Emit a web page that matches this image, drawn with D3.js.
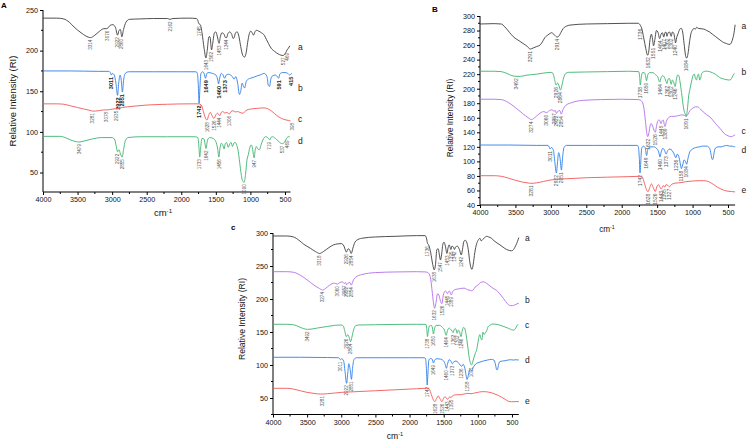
<!DOCTYPE html>
<html><head><meta charset="utf-8">
<script src="https://cdn.jsdelivr.net/npm/d3@7/dist/d3.min.js"></script>
<style>
body{margin:0;background:#fff;}
svg{display:block;font-family:"Liberation Sans",Arial,sans-serif;}
</style></head>
<body><svg id="chart" width="750" height="442"></svg>
<script>
// ---------- tick labels ----------
const xTicks = [4000,3500,3000,2500,2000,1500,1000,500];
const A_yTicks = [50,100,150,200,250];
const B_yTicks = [40,60,80,100,120,140,160,180,200,220,240,260,280,300];
const C_yTicks = [50,100,150,200,250,300];

// ---------- Panel A spectra [wavenumber, intensity] ----------
const A_a = [[4000,240],[3800,240],[3700,239],[3620,235],[3550,229],[3450,222],[3380,218],[3314,216],[3250,219],[3180,224],[3120,227],[3076,227],[3030,231],[2990,232],[2950,228],[2922,219],[2900,225],[2880,226],[2860,217],[2835,226],[2800,235],[2750,238.5],[2600,239],[2400,239.5],[2200,239.5],[2162,238.5],[2120,239.5],[1900,240],[1780,239.5],[1760,237],[1745,233],[1725,232],[1700,222],[1670,203],[1643,191],[1625,200],[1600,217],[1585,217],[1562,201],[1545,209],[1520,222],[1500,223],[1480,218],[1453,209],[1435,217],[1410,222],[1380,220],[1360,216],[1344,216],[1325,221],[1300,223],[1270,220],[1250,215],[1235,216],[1215,222],[1190,223],[1165,217],[1140,205],[1110,194],[1085,192],[1060,198],[1040,210],[1015,221],[995,224],[975,222],[955,219],[935,223],[915,225],[880,224],[840,222],[800,219],[770,214],[740,209],[700,203],[650,199],[600,196],[560,194.5],[527,194],[500,196],[480,199],[469,201],[450,203],[430,206]];
const A_b = [[4000,175],[3600,175],[3200,174.5],[3050,174.5],[3025,173],[3011,170],[2995,172],[2970,170],[2945,160],[2922,145],[2905,160],[2885,170],[2870,165],[2851,149],[2835,163],[2810,172],[2760,174],[2400,174],[2000,174],[1800,174],[1770,173],[1755,160],[1742,135],[1730,155],[1715,172],[1690,174],[1670,172],[1649,166],[1630,172],[1600,173],[1550,172],[1500,170],[1475,165],[1460,159],[1445,166],[1420,172],[1395,170],[1373,166],[1350,170],[1320,171],[1290,170],[1260,168],[1236,165],[1210,168],[1185,160],[1158,146],[1140,150],[1120,160],[1100,156],[1084,154],[1060,162],[1030,165],[1000,166],[960,167],[900,169],[860,170],[800,172],[760,168],[740,157],[722,156],[705,165],[680,169],[640,170],[610,168],[591,166],[575,171],[540,173],[500,173],[460,172],[430,170],[415,171],[400,172]];
const A_c = [[4000,134.5],[3800,134.5],[3700,134],[3600,132],[3500,130],[3400,128],[3300,126],[3281,125.5],[3200,126],[3120,127],[3078,127],[3000,128],[2935,128.5],[2850,130],[2700,131.5],[2500,133],[2200,134],[1900,134.5],[1750,134.5],[1710,133],[1680,125],[1650,117],[1628,114.5],[1605,120],[1580,124],[1555,120],[1526,116.5],[1500,121],[1475,123],[1444,120],[1420,124],[1395,125],[1370,123],[1340,124],[1306,122],[1280,125],[1250,126],[1220,124.5],[1190,125],[1150,124],[1120,123],[1103,123],[1080,125],[1050,127],[1000,128],[900,129],[800,129.5],[750,128.5],[700,126],[650,122.5],[600,119],[550,116.5],[500,115],[450,114],[420,113.5]];
const A_d = [[4000,94.5],[3750,94.5],[3680,93],[3600,90],[3520,88],[3479,87.5],[3420,88.5],[3300,91],[3150,93],[3000,93],[2960,90],[2940,82],[2922,75.5],[2900,78],[2880,73],[2855,69],[2835,78],[2810,89],[2770,93],[2600,94],[2200,94],[1800,94],[1760,93],[1745,82],[1733,69],[1720,80],[1700,92],[1670,91],[1642,79.5],[1620,90],[1590,93],[1540,92],[1500,88],[1475,80],[1456,69],[1440,80],[1420,86],[1400,84],[1380,79],[1365,85],[1345,87],[1320,81],[1300,85],[1280,87],[1260,82],[1240,86],[1220,87],[1200,84],[1180,78],[1160,66],[1140,52],[1115,40],[1090,38],[1070,48],[1050,65],[1030,72],[1010,80],[990,84],[975,82],[960,74],[947,68],[930,78],[915,82],[895,79],[870,78],[850,83],[820,90],[800,93],[780,94],[750,93],[730,91],[719,90],[705,93],[680,94],[640,92],[600,89],[560,86],[537,85.5],[510,87],[490,90],[469,93],[450,94],[430,94]];

// ---------- Panel B spectra ----------
const B_a = [[4000,289],[3800,289.5],[3700,289],[3650,285],[3580,277],[3530,271.5],[3450,266],[3389,262],[3330,258],[3291,254.5],[3250,256],[3200,258],[3153,260],[3110,266],[3083,270.5],[3040,274],[3012,276],[2990,277],[2960,275],[2930,272],[2914,271],[2890,272],[2860,277],[2824,283],[2780,286],[2730,287.5],[2500,289],[2200,289.5],[1900,290],[1770,290],[1750,289],[1736,287],[1715,282],[1690,270],[1660,255],[1640,247],[1632,246],[1620,250],[1600,268],[1580,275],[1565,268],[1551,259],[1535,266],[1510,280],[1490,278],[1464,269],[1445,275],[1425,277],[1407,271],[1390,277],[1375,278],[1362,272],[1345,277],[1325,278],[1302,272],[1285,278],[1265,276],[1250,268],[1240,263],[1225,270],[1200,277],[1180,282],[1160,283],[1140,278],[1120,262],[1100,246],[1084,242],[1065,248],[1045,263],[1025,275],[1000,281],[980,283],[960,282],[942,284.5],[920,283],[880,282.5],[840,282],[800,280],[760,278],[720,275],[680,272],[640,269],[600,266],[560,263.5],[518,262],[490,261],[472,261],[450,264],[430,270],[410,280],[400,288]];
const B_b = [[4000,224],[3800,224],[3700,223.5],[3620,221],[3550,218],[3492,217],[3430,217],[3350,218.5],[3200,220],[3100,221.5],[3000,222.5],[2970,221],[2950,214],[2926,205],[2905,208],[2885,204],[2864,198],[2845,204],[2820,215],[2790,221],[2750,222.5],[2500,223],[2200,223.5],[1900,224],[1760,223.5],[1748,217],[1738,205],[1726,214],[1710,222],[1680,222],[1665,218],[1650,211],[1635,218],[1610,222],[1560,222],[1520,219],[1490,216],[1464,209],[1445,215],[1420,218],[1390,214],[1375,210],[1362,207],[1345,213],[1325,214],[1302,206],[1285,212],[1270,210],[1246,203],[1230,212],[1210,219],[1195,218],[1175,208],[1150,190],[1125,172],[1100,164],[1091,162],[1075,170],[1055,190],[1036,200],[1010,212],[990,219],[975,220],[960,214],[945,212],[930,218],[915,220],[900,212],[885,215],[870,221],[850,223],[820,224],[790,224],[760,223.5],[720,222],[680,220],[640,217],[600,214.5],[566,213.5],[530,212.5],[490,212],[472,212],[450,214],[430,218],[410,221]];
const B_c = [[4000,185.5],[3800,185.5],[3700,185],[3600,181],[3500,174],[3400,166],[3320,160],[3274,157.5],[3230,160],[3170,165],[3100,168.5],[3060,167],[3020,170],[2985,171],[2957,169],[2935,170],[2922,166],[2900,169],[2875,170],[2854,165],[2830,171],[2790,177],[2700,181],[2541,184],[2300,185],[2000,185.5],[1760,185],[1720,183],[1690,175],[1665,155],[1645,138],[1632,134],[1615,140],[1590,152],[1570,150],[1545,143],[1526,140],[1510,148],[1490,156],[1470,157],[1445,152],[1430,156],[1415,157],[1400,151],[1389,148],[1370,155],[1340,160],[1300,162],[1250,162],[1200,163],[1150,164],[1110,163],[1091,162],[1070,164],[1036,170],[1000,173],[960,175],[930,175],[890,172],[850,168],[800,164],[754,161],[700,155],[650,149],[613,145.5],[560,139],[518,136],[480,134.5],[448,134],[420,135.5],[400,136.5]];
const B_d = [[4000,122.5],[3600,122.5],[3200,122],[3040,122],[3025,120],[3011,117],[2995,119],[2965,116],[2945,100],[2922,84],[2905,100],[2890,112],[2870,104],[2851,88],[2835,105],[2815,119],[2780,122],[2400,122],[2000,122],[1780,122],[1765,120],[1752,105],[1742,84],[1732,98],[1718,118],[1695,121],[1670,119],[1649,108],[1630,117],[1600,120],[1550,120],[1500,117],[1478,113],[1460,106],[1445,112],[1420,118],[1395,115],[1373,110],[1350,115],[1320,117],[1290,115],[1260,110],[1236,105],[1215,110],[1190,105],[1170,95],[1158,90],[1140,95],[1120,102],[1100,100],[1084,96],[1065,104],[1040,113],[1000,117],[960,119],[900,120],[860,121],[800,121],[760,118],[740,110],[725,103],[712,103],[700,110],[680,118],[640,120],[600,120],[560,121],[520,122],[480,121],[440,121],[410,120],[400,121]];
const B_e = [[4000,80.3],[3800,80.3],[3700,79.5],[3600,77],[3500,74],[3400,71.5],[3300,70],[3281,69.8],[3200,70.5],[3100,72.5],[3000,74.5],[2800,76],[2500,77.5],[2200,78.3],[1900,79],[1740,79.5],[1710,78.5],[1680,70],[1650,61],[1628,58.3],[1605,64],[1580,69],[1555,64],[1526,58.5],[1505,65],[1480,68],[1463,65],[1443,62],[1420,66],[1405,66.5],[1395,64.5],[1375,68],[1350,67],[1327,65],[1300,68],[1250,70],[1200,70.5],[1150,71],[1100,72],[1050,72.5],[1000,73],[900,73.5],[850,73.5],[800,73],[750,71],[700,68],[650,64.5],[600,62],[550,60],[500,59],[450,58.5],[400,58]];

// ---------- Panel C spectra ----------
const C_a = [[4000,295.5],[3800,295.5],[3700,294],[3620,289],[3550,283],[3455,277],[3380,272],[3318,269],[3260,272],[3180,278],[3116,282],[3050,283.5],[3000,284],[2960,280],[2940,274],[2926,271],[2900,276],[2880,275],[2854,269],[2830,277],[2800,286],[2774,289],[2700,292],[2500,294],[2200,295],[1900,296],[1770,296],[1750,291],[1736,284],[1720,282],[1690,270],[1660,252],[1638,244],[1620,252],[1600,275],[1580,276],[1565,268],[1547,259],[1530,268],[1510,284],[1495,286],[1475,280],[1453,269],[1435,278],[1420,282],[1405,278],[1395,275],[1380,280],[1360,279],[1342,275],[1325,279],[1300,280],[1270,275],[1242,266.7],[1225,275],[1205,287],[1185,289],[1160,285],[1140,275],[1120,258],[1100,247],[1085,245],[1067,253],[1045,270],[1017,284],[995,289],[969,292],[950,288],[930,290],[900,293],[871,295],[840,294],[800,292],[760,288],[720,285],[676,282],[630,278.5],[578,275],[540,273.5],[505,273],[470,276],[445,281],[431,284],[410,290],[400,293]];
const C_b = [[4000,241.4],[3800,241.4],[3700,240.5],[3600,236],[3500,229],[3400,221],[3320,216],[3274,213.6],[3230,216],[3170,221],[3100,224],[3060,222.5],[3020,225],[2985,226],[2957,223.5],[2935,225],[2922,221.5],[2900,224],[2875,225],[2854,221],[2830,227],[2790,233],[2700,237],[2500,240],[2200,241],[1900,241.4],[1760,241],[1720,239],[1690,230],[1665,208],[1645,191],[1632,186],[1615,193],[1590,208],[1570,206],[1545,196],[1526,193],[1510,203],[1490,211],[1470,212],[1445,208],[1430,211],[1415,212],[1400,208],[1389,206],[1370,211],[1340,214],[1300,215],[1250,216],[1200,216.5],[1150,214],[1110,213],[1091,212.5],[1067,214],[1040,218],[1000,221],[960,225],[920,226],[890,225],[850,222],[800,218],[760,215],[725,213],[680,208],[626,201],[590,196],[553,191.5],[520,190],[490,190],[460,191],[430,192.5],[400,193.5]];
const C_c = [[4000,161.7],[3800,161.7],[3700,161],[3620,158],[3550,155],[3492,154],[3430,154.5],[3350,156],[3200,158.5],[3100,160],[3000,160.6],[2970,159],[2950,152],[2926,143],[2905,146],[2885,142],[2864,135.3],[2845,142],[2820,153],[2790,159.5],[2750,160.6],[2500,161],[2200,161.5],[1900,161.7],[1760,161.5],[1748,155],[1738,143],[1726,151],[1710,159],[1680,160],[1665,156],[1650,147],[1635,155],[1610,160],[1560,160],[1520,157],[1490,153],[1464,145],[1445,152],[1420,156],[1390,153],[1375,151],[1362,149],[1345,154],[1325,155],[1302,148],[1285,153],[1270,151],[1246,143],[1230,151],[1210,157],[1195,156],[1175,148],[1150,130],[1125,110],[1100,101],[1091,100],[1075,105],[1055,112],[1036,118],[1017,123],[1000,133],[985,142],[969,146],[955,140],[940,138],[925,150],[910,146],[895,148],[870,152],[850,158],[818,160.6],[790,162],[760,162],[720,161.5],[680,160.5],[640,159],[600,157.5],[553,155.6],[520,154],[490,153],[472,153],[450,155],[430,159],[410,161.7]];
const C_d = [[4000,111.7],[3600,111.7],[3200,111.3],[3040,111],[3025,110],[3011,108],[2995,109.5],[2965,106],[2945,90],[2922,72.3],[2905,88],[2890,102],[2870,93],[2851,78.3],[2835,95],[2815,108],[2780,111],[2400,111],[2000,111],[1780,111],[1765,109],[1752,92],[1742,69.7],[1732,85],[1718,107],[1695,110],[1670,109],[1649,103],[1630,108],[1600,109.5],[1550,109],[1500,106],[1478,101],[1460,95],[1445,101],[1420,108],[1395,106],[1373,102],[1350,105],[1320,106],[1290,104],[1260,100],[1236,98],[1215,101],[1190,95],[1170,83],[1158,78],[1140,84],[1120,93],[1100,92],[1091,91],[1070,96],[1045,100],[1017,102.5],[980,104],[920,106],[860,107.5],[800,108.5],[760,107],[740,100],[725,93],[712,93],[700,99],[680,105],[640,106],[600,106.5],[560,107.5],[520,108],[480,107.5],[440,108],[410,107.5],[400,108]];
const C_e = [[4000,64.7],[3800,64.7],[3700,63.5],[3600,61],[3500,58.5],[3400,57],[3300,56],[3281,56],[3200,56.5],[3100,57.5],[3000,58.5],[2800,59.5],[2500,61],[2200,62.5],[1900,64],[1740,64.7],[1710,63],[1680,55],[1650,47],[1628,44.4],[1605,49],[1580,53],[1555,49],[1526,44.4],[1505,49],[1480,52],[1463,50],[1443,48],[1420,51],[1405,52],[1395,50.5],[1375,53],[1340,54.5],[1300,55],[1250,55],[1200,56],[1150,57],[1100,56.5],[1050,57.5],[1000,58.5],[950,59.5],[900,59.6],[850,59],[800,58],[750,56],[700,54],[650,51],[600,48],[550,45],[505,44.4],[470,44.4],[440,44.6],[400,44.5]];

// ---------- peak labels (wavenumbers) ----------
const A_a_peaks = [3314,3076,2922,2860,2162,1745,1643,1562,1453,1344,527,469];
const A_b_peaks = [3011,2922,2851,1742,1649,1460,1373,591,415];
const A_c_peaks = [3281,3078,2935,1628,1526,1444,1306,398];
const A_d_peaks = [3479,2922,2855,1733,1642,1456,1090,947,719,537,469];
const B_a_peaks = [3291,2914,1736,1632,1551,1464,1407,1362,1302,1240,1084];
const B_b_peaks = [3492,2926,2864,1738,1650,1464,1362,1302,1246,1091];
const B_c_peaks = [3274,3060,2957,2922,2854,1632,1526,1445,1389];
const B_d_peaks = [3011,2922,2851,1742,1649,1460,1373,1236,1158,1084];
const B_e_peaks = [3281,1628,1526,1443,1395,1327];
const C_a_peaks = [3318,2926,2854,1736,1638,1547,1453,1395,1342,1242];
const C_b_peaks = [3274,3060,2957,2922,2854,1632,1526,1445,1389];
const C_c_peaks = [3492,2926,2864,1738,1650,1464,1362,1302,1246,1091];
const C_d_peaks = [3011,2922,2851,1742,1649,1460,1373,1236,1158];
const C_e_peaks = [3281,1628,1526,1443,1395];

const seriesNames = ["a","b","c","d","e"];

// ---------- colours ----------
const GRAY="#3d3d3d", BLUE="#2f7fea", RED="#f25757", GREEN="#3cb46e", PURPLE="#b36ee8";

// ---------- layout ----------
const panels = [
  {letter:"A", letterPos:[1,8], xr:[43,290.5], xd:[4000,420], yd:[26,250], yr:[192,10], yTicks:A_yTicks, yMinorStep:25,
   tickFont:7.2, peakFont:4.6, titleFont:9.5, titleX:13, titleY:101, cmX:163, cmY:216, seriesX:298,
   series:[{d:A_a,c:GRAY,p:A_a_peaks,ly:48},{d:A_b,c:BLUE,p:A_b_peaks,ly:89,bold:true},{d:A_c,c:RED,p:A_c_peaks,ly:120},{d:A_d,c:GREEN,p:A_d_peaks,ly:142}]},
  {letter:"B", letterPos:[432,12], xr:[480,735.1], xd:[4000,400], yd:[40,300], yr:[205,16], yTicks:B_yTicks, yMinorStep:10,
   tickFont:7.2, peakFont:5, titleFont:8.2, titleX:451, titleY:118, cmX:607, cmY:232, seriesX:741.5,
   series:[{d:B_a,c:GRAY,p:B_a_peaks,ly:27},{d:B_b,c:GREEN,p:B_b_peaks,ly:73},{d:B_c,c:PURPLE,p:B_c_peaks,ly:132},{d:B_d,c:BLUE,p:B_d_peaks,ly:151},{d:B_e,c:RED,p:B_e_peaks,ly:191}]},
  {letter:"c", letterPos:[231,230], xr:[273,518.8], xd:[4000,400], yd:[25,300], yr:[414.5,233], yTicks:C_yTicks, yMinorStep:25,
   tickFont:7.2, peakFont:4.6, titleFont:8.6, titleX:243, titleY:319, cmX:395, cmY:439, seriesX:525,
   series:[{d:C_a,c:GRAY,p:C_a_peaks,ly:239},{d:C_b,c:PURPLE,p:C_b_peaks,ly:301},{d:C_c,c:GREEN,p:C_c_peaks,ly:326},{d:C_d,c:BLUE,p:C_d_peaks,ly:361},{d:C_e,c:RED,p:C_e_peaks,ly:402}]}
];

const svg = d3.select("#chart");

function interp(data, w){
  for(let i=0;i<data.length-1;i++){
    const [w0,v0]=data[i],[w1,v1]=data[i+1];
    if(w<=w0 && w>=w1){ const t=(w0-w)/(w0-w1||1); return v0+t*(v1-v0); }
  }
  return w>data[0][0]?data[0][1]:data[data.length-1][1];
}

panels.forEach(P=>{
  const g = svg.append("g");
  const x = d3.scaleLinear().domain(P.xd).range(P.xr);
  const y = d3.scaleLinear().domain(P.yd).range(P.yr);

  // x axis
  const xMinor = d3.range(4000, P.xd[1]-1, -250).filter(v=>v%500!==0);
  const xa = g.append("g").attr("transform",`translate(0,${P.yr[0]})`)
    .call(d3.axisBottom(x).tickValues(xTicks).tickSize(3).tickPadding(2).tickFormat(d3.format("d")));
  xa.selectAll("text").attr("font-size",P.tickFont).attr("fill","#111").attr("font-family","Liberation Sans, Arial, sans-serif");
  xa.select(".domain").attr("d",`M${P.xr[0]},0H${P.xr[1]}`);
  g.append("g").attr("transform",`translate(0,${P.yr[0]})`).selectAll("line").data(xMinor).join("line")
    .attr("x1",d=>x(d)).attr("x2",d=>x(d)).attr("y1",0).attr("y2",2).attr("stroke","#000");

  // y axis
  const ya = g.append("g").attr("transform",`translate(${P.xr[0]},0)`)
    .call(d3.axisLeft(y).tickValues(P.yTicks).tickSize(3).tickPadding(2).tickFormat(d3.format("d")));
  ya.selectAll("text").attr("font-size",P.tickFont).attr("fill","#111").attr("font-family","Liberation Sans, Arial, sans-serif");
  ya.select(".domain").attr("d",`M0,${P.yr[0]}V${P.yr[1]}`);
  const yMinor = d3.range(Math.ceil(P.yd[0]/P.yMinorStep)*P.yMinorStep, P.yd[1]+0.1, P.yMinorStep).filter(v=>!P.yTicks.includes(v));
  g.append("g").attr("transform",`translate(${P.xr[0]},0)`).selectAll("line").data(yMinor).join("line")
    .attr("y1",d=>y(d)).attr("y2",d=>y(d)).attr("x1",0).attr("x2",-2).attr("stroke","#000");

  // titles
  g.append("text").attr("transform",`translate(${P.titleX},${P.titleY}) rotate(-90)`).attr("text-anchor","middle")
    .attr("dominant-baseline","middle").attr("font-size",P.titleFont).attr("fill","#111").text("Relative Intensity (RI)");
  const cm = g.append("text").attr("x",P.cmX).attr("y",P.cmY).attr("text-anchor","middle").attr("font-size",P.titleFont).attr("fill","#111");
  cm.append("tspan").text("cm");
  cm.append("tspan").attr("dy",-3).attr("font-size",P.titleFont*0.65).text("-1");
  g.append("text").attr("x",P.letterPos[0]).attr("y",P.letterPos[1]).attr("font-size",8).attr("font-weight","bold").attr("fill","#000").text(P.letter);

  const line = d3.line().x(d=>x(d[0])).y(d=>y(d[1])).curve(d3.curveMonotoneX);

  P.series.forEach((s,i)=>{
    g.append("path").datum(s.d).attr("d",line).attr("fill","none").attr("stroke",s.c).attr("stroke-width",0.9).attr("stroke-linejoin","round");
    // peak labels
    const fs = s.bold ? P.peakFont+1 : P.peakFont;
    g.append("g").selectAll("text").data(s.p).join("text")
      .attr("transform",w=>{
        const v=Math.min(interp(s.d,w),interp(s.d,w-8),interp(s.d,w+8));
        return `translate(${x(w)+fs*0.36},${y(v)+2}) rotate(-90)`;
      })
      .attr("text-anchor","end").attr("font-size",fs).attr("font-weight",s.bold?"bold":"normal")
      .attr("fill",s.bold?"#222":"#555").text(d=>d);
    g.append("text").attr("x",P.seriesX).attr("y",s.ly).attr("dominant-baseline","middle").attr("font-size",8.5).attr("fill","#222").text(seriesNames[i]);
  });
});
</script></body></html>
